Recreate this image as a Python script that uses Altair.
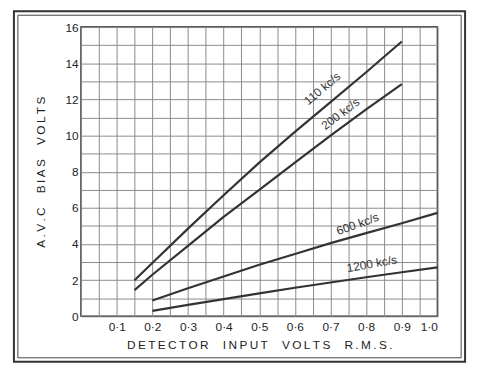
import altair as alt
import pandas as pd

# ---- data ----
x_110 = [0.15, 0.2, 0.3, 0.4, 0.5, 0.6, 0.7, 0.8, 0.9]
y_110 = [2.0, 2.95, 4.85, 6.7, 8.5, 10.2, 11.85, 13.5, 15.2]
x_200 = [0.15, 0.2, 0.3, 0.4, 0.5, 0.6, 0.7, 0.8, 0.9]
y_200 = [1.45, 2.3, 3.9, 5.5, 7.0, 8.5, 10.0, 11.45, 12.85]
x_600 = [0.2, 0.3, 0.4, 0.5, 0.6, 0.7, 0.8, 0.9, 1.0]
y_600 = [0.88, 1.55, 2.2, 2.85, 3.45, 4.05, 4.6, 5.15, 5.72]
x_1200 = [0.2, 0.3, 0.4, 0.5, 0.6, 0.7, 0.8, 0.9, 1.0]
y_1200 = [0.3, 0.63, 0.95, 1.27, 1.58, 1.87, 2.16, 2.44, 2.71]

series_names = ["110 kc/s", "200 kc/s", "600 kc/s", "1200 kc/s"]
label_x = [0.677, 0.728, 0.776, 0.816]
label_y = [12.6, 11.2, 5.1, 2.9]
label_angle = [320, 323, 340, 350]

x_grid = [round(i * 0.05, 2) for i in range(21)]
y_grid = list(range(17))

x_title_words = ["DETECTOR", "INPUT", "VOLTS", "R.M.S."]
y_title_words = ["A.V.C", "BIAS", "VOLTS"]


def spaced(words):
    thin = "\u2009"
    gap = "\u2002\u2002\u2009"
    return gap.join(thin.join(list(w)) for w in words)


rows = []
for name, xs_, ys_ in zip(series_names, [x_110, x_200, x_600, x_1200], [y_110, y_200, y_600, y_1200]):
    for i, (a, b) in enumerate(zip(xs_, ys_)):
        rows.append({"series": name, "x": a, "y": b, "order": i})
df = pd.DataFrame(rows)

lab = pd.DataFrame({"text": series_names, "x": label_x, "y": label_y, "angle": label_angle})

W, H = 361, 293
xs = alt.Scale(domain=[0, 1], nice=False, zero=False)
ys = alt.Scale(domain=[0, 16], nice=False)

x_axis = alt.Axis(
    values=x_grid,
    title=spaced(x_title_words),
    labelExpr="datum.value > 0.01 && abs(datum.value*10 - round(datum.value*10)) < 0.001 ? replace(format(datum.value, '.1f'), '.', '·') : ''",
    grid=True, gridColor="#8a8a8a", gridWidth=1,
    ticks=False, domain=False,
    labelFont="Liberation Sans", labelFontSize=12, labelColor="#222",
    labelPadding=5,
    titleFont="Liberation Sans", titleFontSize=12, titleFontWeight="normal", titleColor="#222",
    titlePadding=8,
)
y_axis = alt.Axis(
    values=y_grid,
    title=spaced(y_title_words),
    labelExpr="datum.value % 2 == 0 ? datum.label : ''",
    grid=True, gridColor="#8a8a8a", gridWidth=1,
    ticks=False, domain=False,
    labelFont="Liberation Sans", labelFontSize=12, labelColor="#222",
    labelPadding=3,
    titleFont="Liberation Sans", titleFontSize=12, titleFontWeight="normal", titleColor="#222",
    titlePadding=18,
)

lines = alt.Chart(df).mark_line(color="#333", strokeWidth=2.2).encode(
    x=alt.X("x:Q", scale=xs, axis=x_axis),
    y=alt.Y("y:Q", scale=ys, axis=y_axis),
    detail="series:N",
    order="order:Q",
)

texts = alt.Chart(lab).mark_text(
    font="Liberation Sans", fontSize=12, color="#333", align="center", baseline="middle"
).encode(
    x=alt.X("x:Q", scale=xs, axis=x_axis),
    y=alt.Y("y:Q", scale=ys, axis=y_axis),
    text="text:N",
    angle=alt.Angle("angle:Q", scale=None),
)

frame_outer = alt.Chart(pd.DataFrame({"k": [0]})).mark_rect(
    fill=None, stroke="#333", strokeWidth=2
).encode(x=alt.value(-68), x2=alt.value(389), y=alt.value(-16), y2=alt.value(339))
frame_inner = alt.Chart(pd.DataFrame({"k": [0]})).mark_rect(
    fill=None, stroke="#444", strokeWidth=1
).encode(x=alt.value(-64), x2=alt.value(385), y=alt.value(-12), y2=alt.value(335))

chart = alt.layer(frame_outer, frame_inner, lines, texts).properties(
    width=W, height=H,
    autosize=alt.AutoSizeParams(type="none"),
    padding={"left": 74, "top": 17, "right": 34, "bottom": 48},
    background="white",
).configure_view(stroke="#222", strokeWidth=1.5)

chart.save("out.html", embed_options={"renderer": "svg", "actions": False})
